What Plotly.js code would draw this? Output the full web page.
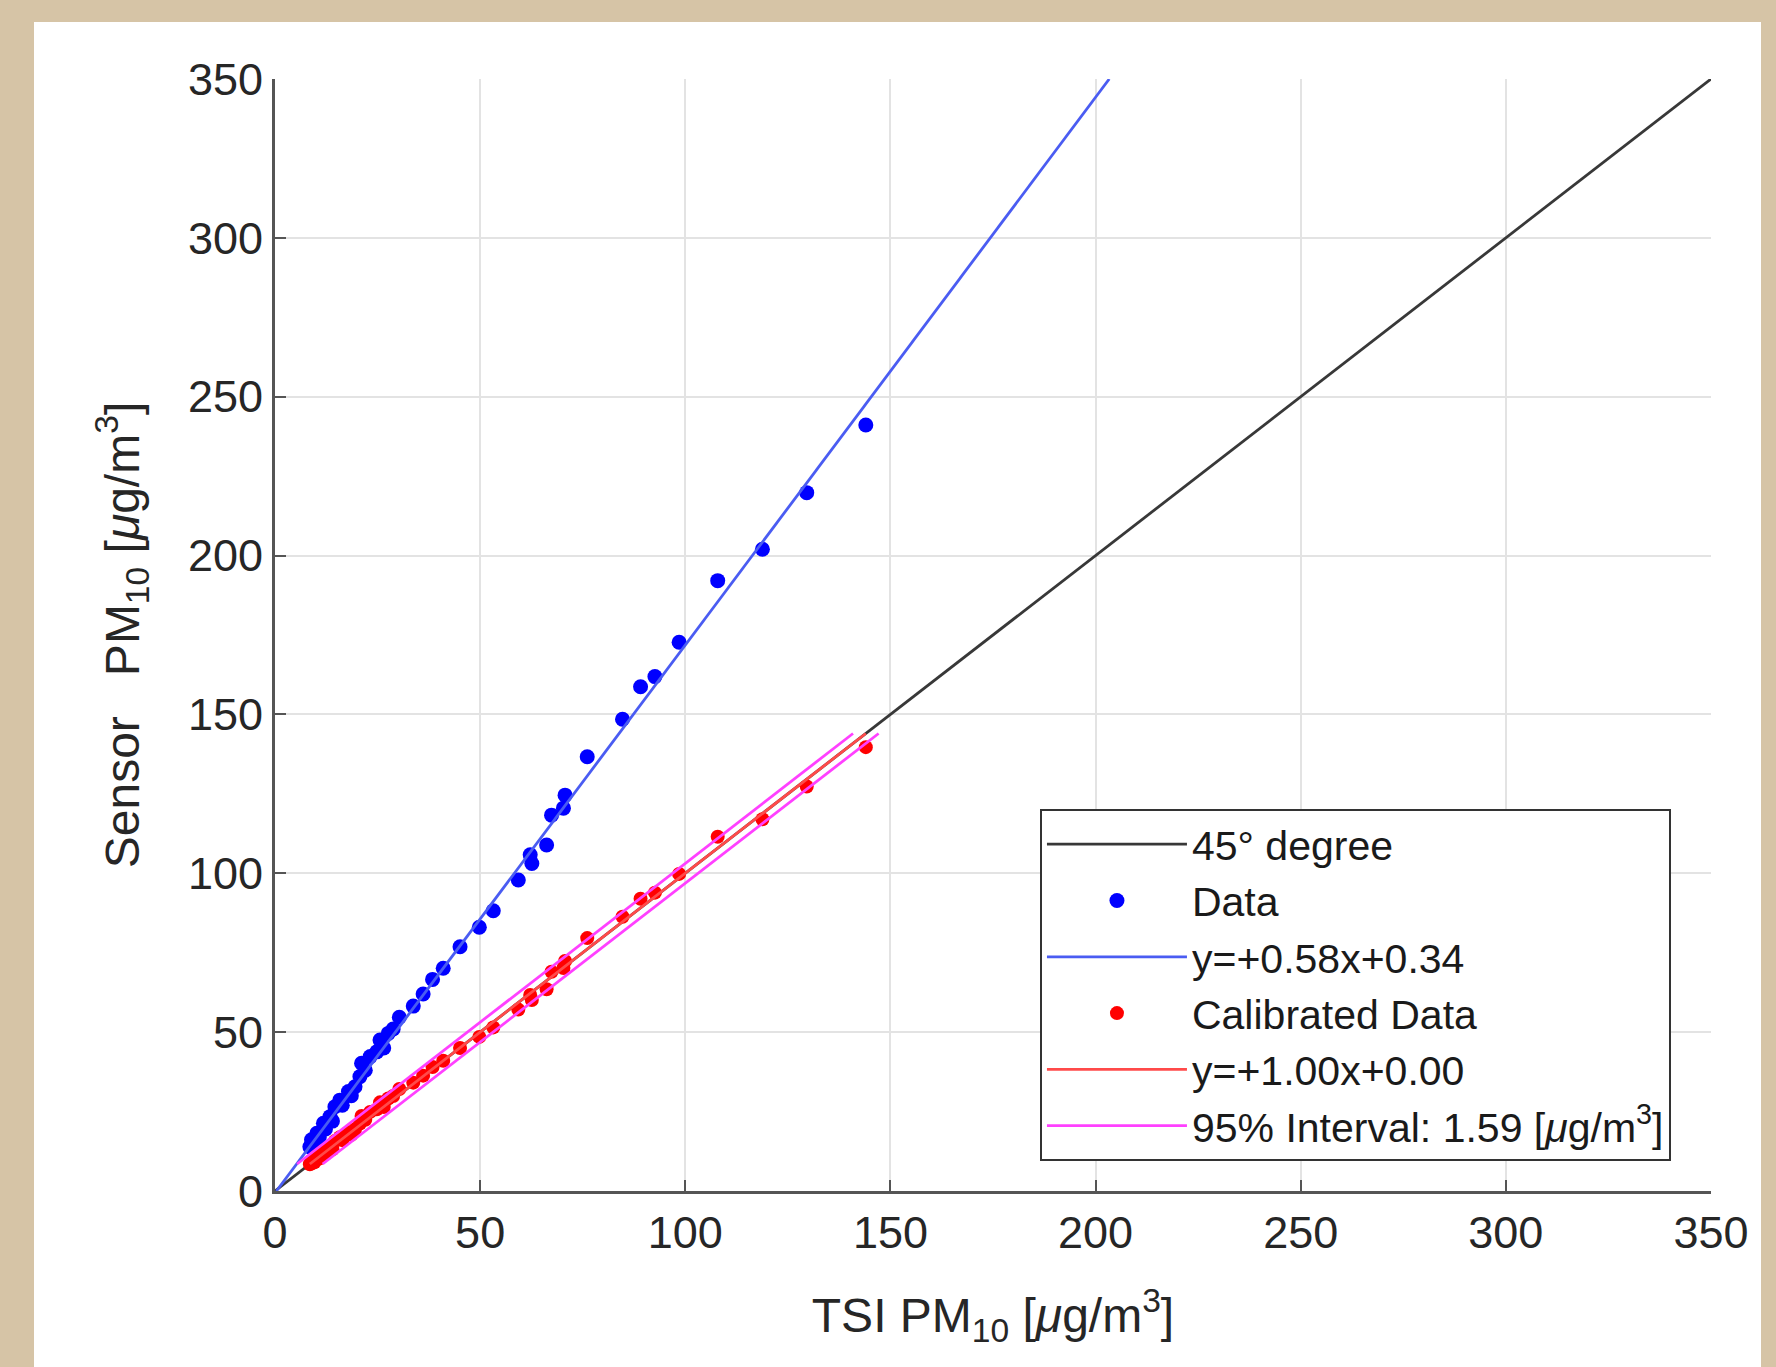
<!DOCTYPE html>
<html><head><meta charset="utf-8">
<script src="https://cdn.plot.ly/plotly-3.0.1.min.js"></script>
<style>
html,body{margin:0;padding:0;background:#d6c4a6;width:1776px;height:1367px;overflow:hidden}
#chart{position:absolute;left:34px;top:22px;width:1727px;height:1345px;background:#fff}
</style></head><body><div id="chart"></div>
<script>
// TSI reference PM10 (x) for each sample
const tsiPM10 = [8.5, 8.9, 9.6, 10.2, 10.8, 11.8, 12.3, 13.4, 14.0, 14.6, 15.8, 16.4, 17.9, 18.6, 19.5, 20.7, 21.1, 22.0, 23.2, 24.8, 25.6, 26.5, 27.6, 28.8, 30.3, 33.7, 36.1, 38.4, 41.0, 45.1, 49.8, 53.2, 59.3, 62.2, 62.6, 66.2, 67.4, 70.3, 70.7, 76.1, 84.7, 89.1, 92.6, 98.5, 107.9, 118.8, 129.6, 144.0];
// raw sensor PM10 (blue)
const sensorPM10 = [13.9, 16.1, 15.0, 18.2, 17.0, 21.3, 19.5, 23.4, 22.0, 26.5, 28.6, 27.0, 31.3, 30.0, 32.8, 36.0, 40.2, 38.0, 42.3, 43.8, 47.5, 45.0, 49.6, 51.0, 54.7, 58.2, 62.0, 66.6, 70.1, 76.9, 83.0, 88.2, 97.9, 105.8, 103.1, 108.9, 118.3, 120.5, 124.6, 136.7, 148.5, 158.7, 161.9, 172.7, 192.1, 202.0, 219.8, 241.1];
// calibrated sensor PM10 (red)
const calibratedPM10 = [8.4, 9.5, 9.0, 10.9, 10.2, 12.6, 11.6, 13.9, 13.1, 15.7, 16.9, 16.0, 18.5, 17.7, 19.4, 21.2, 23.6, 22.4, 24.9, 25.7, 27.9, 26.4, 29.1, 29.9, 32.1, 34.1, 36.3, 39.0, 41.0, 45.0, 48.5, 51.5, 57.1, 61.7, 60.1, 63.5, 69.0, 70.2, 72.4, 79.6, 86.3, 92.0, 93.9, 99.8, 111.5, 117.0, 127.3, 139.7];

const rawFit = {slope: 0.58, intercept: 0.34};   // TSI = slope*sensor + intercept
const calFit = {slope: 1.00, intercept: 0.00};
const interval95 = 1.59;
const refLineRange = [0, 350];
const rawFitSensorRange = [0, 350];
const calFitRange = [8.5, 144];
const tickVals = [0, 50, 100, 150, 200, 250, 300, 350];

const halfBand = 1.96 * interval95;
const calY = calFitRange.map(x => calFit.slope * x + calFit.intercept);

const FONT = 'Liberation Sans, Arial, Helvetica, sans-serif';
const TXT = '#262626';
const unit = '[<i>μ</i>g/m<sup>3</sup>]';

const traces = [
  {x: refLineRange, y: refLineRange, mode: 'lines', name: '45° degree',
   line: {color: '#383838', width: 2.8}},
  {x: tsiPM10, y: sensorPM10, mode: 'markers', name: 'Data',
   marker: {color: '#0000ff', size: 15}},
  {x: rawFitSensorRange.map(s => rawFit.slope * s + rawFit.intercept), y: rawFitSensorRange,
   mode: 'lines', name: 'y=+0.58x+0.34', line: {color: '#4a5cf2', width: 2.8}},
  {x: tsiPM10, y: calibratedPM10, mode: 'markers', name: 'Calibrated Data',
   marker: {color: '#ff0000', size: 14}},
  {x: calFitRange, y: calY, mode: 'lines', name: 'y=+1.00x+0.00',
   line: {color: '#ff4a4a', width: 2.8}},
  {x: calY.map(y => y - halfBand), y: calY, mode: 'lines',
   name: '95% Interval: 1.59 ' + unit, line: {color: '#ff40ff', width: 2.8}},
  {x: calY.map(y => y + halfBand), y: calY, mode: 'lines', showlegend: false,
   line: {color: '#ff40ff', width: 2.8}}
];

const axisCommon = {
  range: [0, 350], tickvals: tickVals, ticktext: tickVals.map(String),
  showgrid: true, gridcolor: '#e3e3e3', gridwidth: 2,
  showline: true, linecolor: '#555555', linewidth: 3,
  ticks: 'inside', ticklen: 11, tickwidth: 2, tickcolor: '#555555',
  zeroline: false, tickfont: {family: FONT, size: 45, color: TXT},
  automargin: false
};

const layout = {
  width: 1727, height: 1345,
  paper_bgcolor: '#ffffff', plot_bgcolor: '#ffffff',
  margin: {l: 241, r: 50, t: 57, b: 176},
  font: {family: FONT, color: TXT},
  xaxis: Object.assign({}, axisCommon, {
    title: {text: 'TSI PM<sub>10</sub> ' + unit, font: {family: FONT, size: 48, color: TXT}, standoff: 42}
  }),
  yaxis: Object.assign({}, axisCommon, {
    title: {text: 'Sensor\u00a0\u00a0\u00a0PM<sub>10</sub> ' + unit, font: {family: FONT, size: 48, color: TXT}, standoff: 34}
  }),
  showlegend: true,
  legend: {
    x: 0.5327, y: 0.3435, xanchor: 'left', yanchor: 'top',
    bgcolor: '#ffffff', bordercolor: '#333333', borderwidth: 2,
    font: {family: FONT, size: 41, color: '#1a1a1a'},
    itemwidth: 140, tracegroupgap: 0
  }
};

Plotly.newPlot('chart', traces, layout, {displayModeBar: false, staticPlot: true});
</script></body></html>
